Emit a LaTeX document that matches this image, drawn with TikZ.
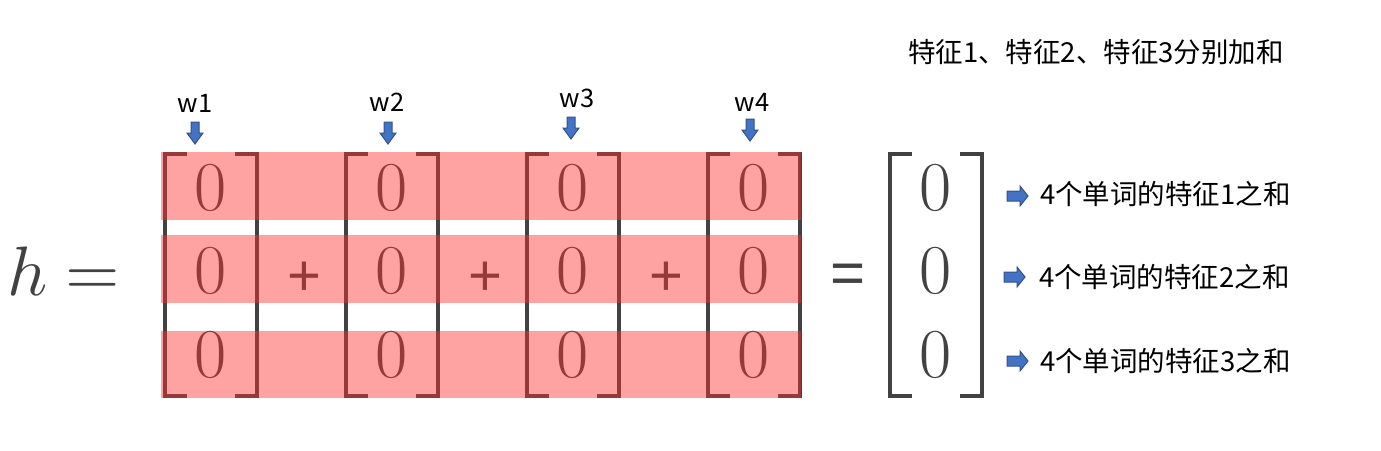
\documentclass[tikz,border=0pt]{standalone}
\usepackage{fontspec}
\newfontfamily\cjk{Noto Sans CJK SC}
\newfontfamily\lsans{Liberation Sans}
\definecolor{mgray}{RGB}{66,66,66}
\definecolor{pinkov}{RGB}{255,48,48}
\definecolor{arrfill}{RGB}{68,114,196}
\definecolor{arredge}{RGB}{47,82,143}
\begin{document}
\begin{tikzpicture}[x=1pt,y=-1pt,
  zero/.style={font=\fontsize{70}{70}\selectfont, text=mgray, inner sep=0pt, anchor=center},
  bigmath/.style={text=mgray, inner sep=0pt, anchor=base},
  op/.style={font=\lsans\fontsize{58}{58}\selectfont, text=mgray, inner sep=0pt, anchor=base},
  brk/.style={draw=mgray, line width=4pt, line cap=butt, line join=miter},
  band/.style={fill=pinkov, fill opacity=0.45, draw=none},
  wlabel/.style={font=\cjk\fontsize{25.5}{25.5}\selectfont, text=black, inner sep=0pt, anchor=center},
  note/.style={font=\cjk\fontsize{27.5}{27.5}\selectfont, text=black, inner sep=0pt, anchor=west},
  darr/.pic={\filldraw[fill=arrfill, draw=arredge, line width=1pt, line join=miter]
     (-4,0) -- (4,0) -- (4,11) -- (8,11) -- (0,22) -- (-8,11) -- (-4,11) -- cycle;},
  rarr/.pic={\filldraw[fill=arrfill, draw=arredge, line width=1pt, line join=miter]
     (0,-5) -- (13,-5) -- (13,-10) -- (21,0) -- (13,10) -- (13,5) -- (0,5) -- cycle;}
]
\useasboundingbox (0,0) rectangle (1381,450);

% h =
\node[bigmath] (h) at (28,295) {\scalebox{7}{$h$}};
\node[bigmath] (eq0) at (93,295) {\scalebox{7}{$=$}};

% matrices: centers
\foreach \c/\n in {211/m1,392/m2,573/m3,754/m4,936/r}{
  \node[zero] (\n a) at (\c,188) {0};
  \node[zero] (\n b) at (\c,271) {0};
  \node[zero] (\n c) at (\c,355) {0};
  \draw[brk] (\c-46+22,154) -- (\c-46,154) -- (\c-46,396) -- (\c-46+22,396);
  \draw[brk] (\c+46-22,154) -- (\c+46,154) -- (\c+46,396) -- (\c+46-22,396);
}

% operators
\node[op] (p1) at (304,295) {+};
\node[op] (p2) at (485,295) {+};
\node[op] (p3) at (666,295) {+};
\node[op, font=\lsans\fontsize{60}{60}\selectfont] (eq1) at (848,293) {=};

% pink bands
\fill[band] (161,152) rectangle (801,220);
\fill[band] (161,235) rectangle (801,303);
\fill[band] (161,331) rectangle (801,398);

% w labels and down arrows
\node[wlabel] (w1) at (195,103) {w1};
\node[wlabel] (w2) at (387,102) {w2};
\node[wlabel] (w3) at (577,98) {w3};
\node[wlabel] (w4) at (752,102) {w4};
\pic at (195,122) {darr};
\pic at (388,122) {darr};
\pic at (571,117) {darr};
\pic at (750,119) {darr};

% right notes
\pic at (1007,196) {rarr};
\pic at (1004,277) {rarr};
\pic at (1007,361) {rarr};
\node[note] (n1) at (1040,194) {4个单词的特征1之和};
\node[note] (n2) at (1039,277) {4个单词的特征2之和};
\node[note] (n3) at (1040,361) {4个单词的特征3之和};

% top caption
\node[note, anchor=center] (top) at (1096,52) {特征1、特征2、特征3分别加和};
\end{tikzpicture}
\end{document}
